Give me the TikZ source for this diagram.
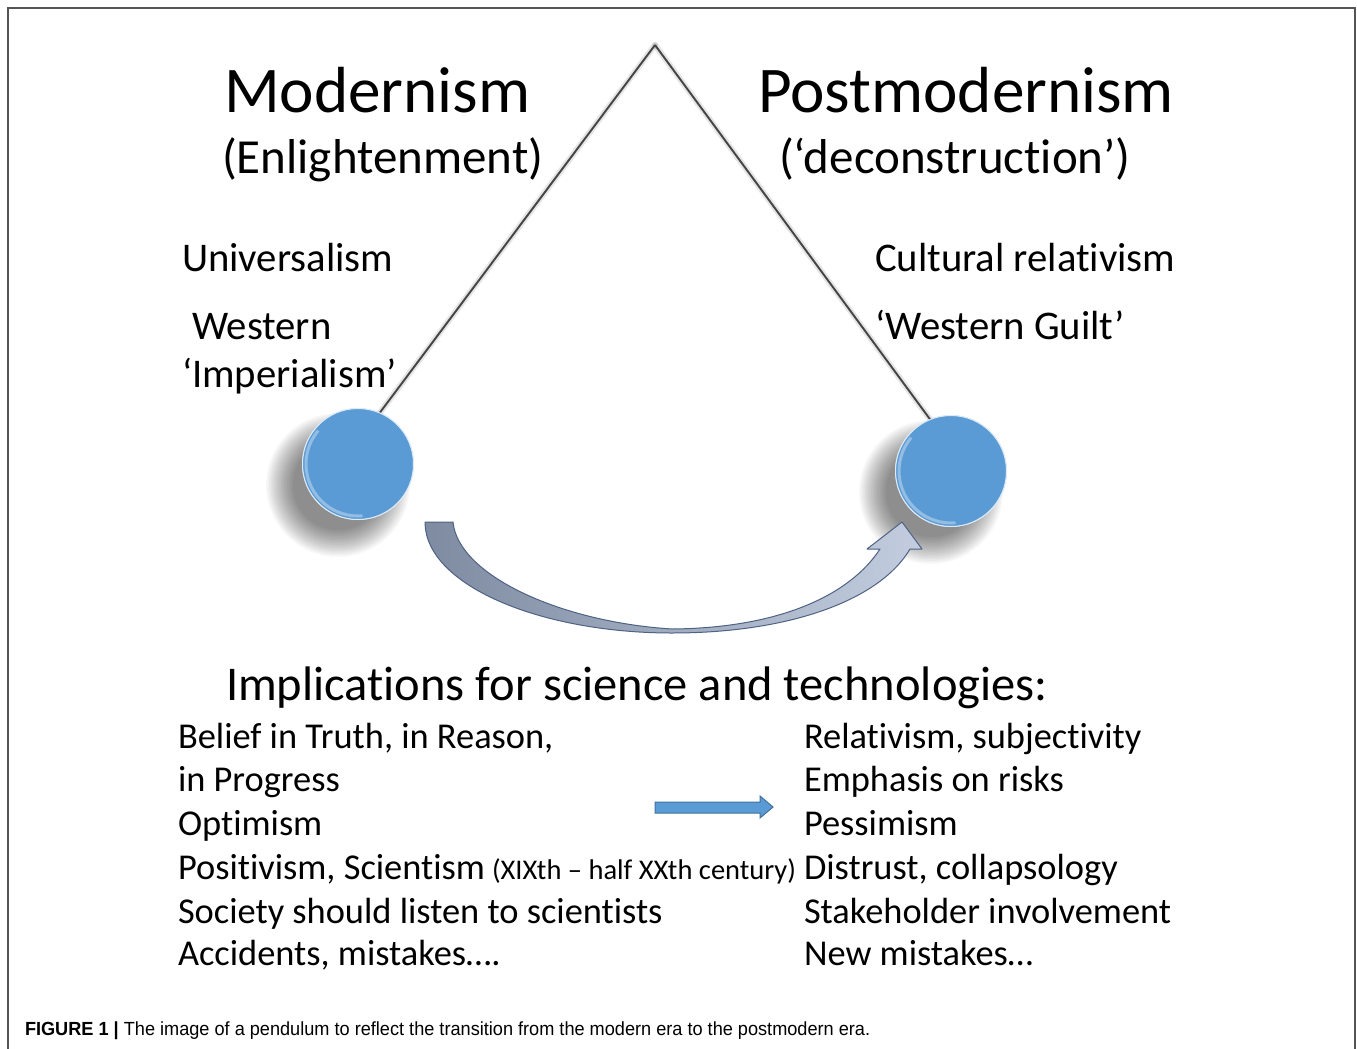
\documentclass[tikz,border=0pt]{standalone}
\usepackage{fontspec}
\setmainfont{Carlito}[Ligatures={NoCommon}]
\newfontfamily\capfont{Liberation Sans}
\usetikzlibrary{calc}
\definecolor{ballblue}{HTML}{5B9BD5}
\definecolor{balledge}{HTML}{41719C}
\definecolor{arrdark}{HTML}{7E8BA1}
\definecolor{arrlight}{HTML}{C3CDDF}
\definecolor{arredge}{HTML}{4E6283}
\definecolor{rodgray}{HTML}{444444}
\definecolor{framegray}{HTML}{555555}
\begin{document}
\begin{tikzpicture}[x=1pt,y=-1pt,
  txt/.style={anchor=base west, inner sep=0pt, outer sep=0pt},
  title/.style={txt, font=\fontsize{65.2}{70}\selectfont},
  subtitle/.style={txt, font=\fontsize{49}{54}\selectfont},
  side/.style={txt, font=\fontsize{40.7}{46}\selectfont},
  head/.style={txt, font=\fontsize{48.5}{54}\selectfont},
  item/.style={txt, font=\fontsize{36.4}{40}\selectfont},
  small/.style={txt, font=\fontsize{28.5}{30}\selectfont},
  ball/.style={circle, minimum size=111pt, inner sep=0pt, outer sep=0pt, fill=ballblue, draw=white!80!ballblue, line width=1pt},
  rod/.style={draw=rodgray, line width=1.9pt},
  rodshadow/.style={draw=black, opacity=.10, line width=6pt, line cap=round},
  rim/.style={draw=white, opacity=.35, line width=3pt},
  framestyle/.style={draw=framegray, line width=1.6pt}
]
\useasboundingbox (0,0) rectangle (1357,1049);
\fill[white] (0,0) rectangle (1357,1049);
\draw[framestyle] (8,1049) -- (8,8) -- (1355,8) -- (1355,1049);

% ball shadows
\foreach \r in {72,70.5,...,44} {
  \fill[black, opacity=.026] (338,485) circle[radius=\r];
  \fill[black, opacity=.026] (931,492) circle[radius=\r];
}

% pendulum
\coordinate (apex) at (655,45);
\node[ball] (ballL) at (358,464) {};
\node[ball] (ballR) at (951,471) {};
\draw[rodshadow] (apex) -- (ballL.67);
\draw[rodshadow] (apex) -- (ballR.112);
\draw[rod] (apex) -- (ballL.67);
\draw[rod] (apex) -- (ballR.112);
\node[ball] at (ballL) {};
\node[ball] at (ballR) {};
\draw[rim] ([shift={(-140:52)}]ballL.center) arc[start angle=-140, end angle=-275, radius=52];
\draw[rim] ([shift={(-140:52)}]ballR.center) arc[start angle=-140, end angle=-275, radius=52];

% curved arrow
\path[left color=arrdark, right color=arrlight, draw=arredge, line width=1pt, line join=round]
  (425,522) .. controls (425,585) and (540,633) .. (672,633)
  .. controls (790,633) and (880,600) .. (910,549)
  -- (922,549) -- (902,522) -- (867,549) -- (880,549)
  .. controls (850,595) and (780,628) .. (672,629)
  .. controls (560,622) and (458,575) .. (453,522) -- cycle;

% titles
\node[title] (mod) at (224,112) {Modernism};
\node[subtitle] (enl) at (222,173) {(Enlightenment)};
\node[title] (pmod) at (758,112) {Postmodernism};
\node[subtitle] (dec) at (779,173) {(‘deconstruction’)};

\node[side] (univ) at (182,271) {Universalism};
\node[side] (west) at (192,339) {Western};
\node[side] (imp) at (182,387) {‘Imperialism’};
\node[side] (cult) at (875,271) {Cultural relativism};
\node[side] (guilt) at (875,339) {‘Western Guilt’};

% implications
\node[head] (impl) at (226,700) {Implications for science and technologies:};
\node[item] (l1) at (178,748) {Belief in Truth, in Reason,};
\node[item] (l2) at (178,791) {in Progress};
\node[item] (l3) at (178,835) {Optimism};
\node[item] (l4) at (178,879) {Positivism, Scientism};
\node[small] (l4b) at (492,879) {(XIXth – half XXth century)};
\node[item] (l5) at (178,923) {Society should listen to scientists};
\node[item] (l6) at (178,965) {Accidents, mistakes….};
\node[item] (r1) at (804,748) {Relativism, subjectivity};
\node[item] (r2) at (804,791) {Emphasis on risks};
\node[item] (r3) at (804,835) {Pessimism};
\node[item] (r4) at (804,879) {Distrust, collapsology};
\node[item] (r5) at (804,923) {Stakeholder involvement};
\node[item] (r6) at (804,965) {New mistakes…};

% small arrow
\path[fill=ballblue, draw=balledge, line width=1pt, line join=miter]
  (655,802) -- (760,802) -- (760,796) -- (773,807) -- (760,818) -- (760,813) -- (655,813) -- cycle;

% caption
\node[txt] (cap) at (25,1035) {\capfont\fontsize{19}{22}\selectfont\scalebox{0.955}[1]{\textbf{FIGURE 1 |} The image of a pendulum to reflect the transition from the modern era to the postmodern era.}};
\end{tikzpicture}
\end{document}
